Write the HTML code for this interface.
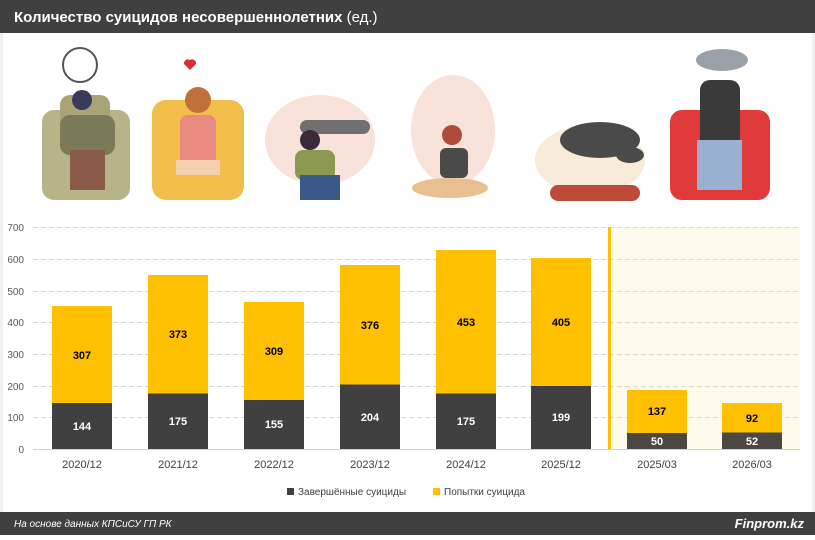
<!DOCTYPE html>
<html><head><meta charset="utf-8"><style>
body{margin:0;width:815px;height:535px;overflow:hidden;background:#fff;font-family:"Liberation Sans",sans-serif}
</style></head><body>
<svg width="815" height="535" xmlns="http://www.w3.org/2000/svg" font-family="Liberation Sans, sans-serif">
<rect x="0" y="0" width="815" height="33" fill="#404040"/>
<text x="14" y="22" font-size="15" font-weight="bold" fill="#fff">Количество суицидов несовершеннолетних <tspan font-weight="normal">(ед.)</tspan></text>
<rect x="0" y="33" width="3" height="479" fill="#f0f0f0"/><rect x="812" y="33" width="3" height="479" fill="#f0f0f0"/>
<!-- illustrations -->
<g>
<rect x="42" y="110" width="88" height="90" rx="12" fill="#b8b48a"/><rect x="60" y="95" width="50" height="60" rx="10" fill="#a8a478"/>
<circle cx="80" cy="65" r="17" fill="none" stroke="#555" stroke-width="2"/><circle cx="82" cy="100" r="10" fill="#3a3a5a"/>
<rect x="60" y="115" width="55" height="40" rx="10" fill="#7a7a58"/><rect x="70" y="150" width="35" height="40" fill="#8a5a4a"/>
<path d="M190 70 l-6-6 a4 4 0 0 1 6-4 a4 4 0 0 1 6 4z" fill="#d63030"/>
<rect x="152" y="100" width="92" height="100" rx="14" fill="#f2be4a"/><circle cx="198" cy="100" r="13" fill="#c0703a"/>
<rect x="180" y="115" width="36" height="50" rx="8" fill="#e88a80"/><rect x="176" y="160" width="44" height="15" fill="#f5d0b0"/>
<ellipse cx="320" cy="140" rx="55" ry="45" fill="#f8e2da"/><rect x="300" y="120" width="70" height="14" rx="7" fill="#707070"/>
<circle cx="310" cy="140" r="10" fill="#3a2a3a"/><rect x="295" y="150" width="40" height="30" rx="8" fill="#8a9a50"/><rect x="300" y="175" width="40" height="25" fill="#3b5a8a"/>
<ellipse cx="453" cy="130" rx="42" ry="55" fill="#f8e2da"/><circle cx="452" cy="135" r="10" fill="#b04a3a"/>
<rect x="440" y="148" width="28" height="30" rx="6" fill="#4a4a4a"/><ellipse cx="450" cy="188" rx="38" ry="10" fill="#e8c090"/>
<ellipse cx="590" cy="160" rx="55" ry="35" fill="#f8ecd8"/><ellipse cx="600" cy="140" rx="40" ry="18" fill="#4a4a4a"/><ellipse cx="630" cy="155" rx="14" ry="8" fill="#4a4a4a"/>
<rect x="550" y="185" width="90" height="16" rx="8" fill="#c04a3a"/>
<ellipse cx="722" cy="60" rx="26" ry="11" fill="#9aa0a8"/>
<rect x="670" y="110" width="100" height="90" rx="12" fill="#e03a3a"/><rect x="700" y="80" width="40" height="70" rx="10" fill="#3a3a3a"/>
<rect x="697" y="140" width="45" height="50" fill="#9ab0d0"/>
</g>
<!-- shaded -->
<rect x="610" y="227" width="190" height="222" fill="#fffbec"/>
<g stroke="#d9d9d9" stroke-dasharray="5,3" stroke-width="1">
<line x1="33" x2="800" y1="227.5" y2="227.5"/><line x1="33" x2="800" y1="259.5" y2="259.5"/><line x1="33" x2="800" y1="291.5" y2="291.5"/><line x1="33" x2="800" y1="322.5" y2="322.5"/><line x1="33" x2="800" y1="354.5" y2="354.5"/><line x1="33" x2="800" y1="386.5" y2="386.5"/><line x1="33" x2="800" y1="417.5" y2="417.5"/>
</g>
<line x1="33" x2="800" y1="449.5" y2="449.5" stroke="#d0d0d0"/>
<rect x="608" y="227" width="3" height="222" fill="#ffc000"/>
<g font-size="10" fill="#595959" text-anchor="end">
<text x="24" y="231">700</text><text x="24" y="263">600</text><text x="24" y="295">500</text><text x="24" y="326">400</text><text x="24" y="358">300</text><text x="24" y="390">200</text><text x="24" y="421">100</text><text x="24" y="453">0</text>
</g>
<g fill="#ffc000">
<rect x="52" y="306" width="60" height="98"/><rect x="148" y="275" width="60" height="119"/><rect x="244" y="302" width="60" height="98"/><rect x="340" y="265" width="60" height="120"/><rect x="436" y="250" width="60" height="144"/><rect x="531" y="258" width="60" height="128"/><rect x="627" y="390" width="60" height="44"/><rect x="722" y="403" width="60" height="30"/>
</g>
<g fill="#404040">
<rect x="52" y="403" width="60" height="46"/><rect x="148" y="393.5" width="60" height="55.5"/><rect x="244" y="400" width="60" height="49"/><rect x="340" y="384.5" width="60" height="64.5"/><rect x="436" y="393.5" width="60" height="55.5"/><rect x="531" y="386" width="60" height="63"/>
</g>
<g fill="#4a4840"><rect x="627" y="433" width="60" height="16"/><rect x="722" y="432.5" width="60" height="16.5"/></g>
<g font-size="11" font-weight="bold" text-anchor="middle" fill="#000">
<text x="82" y="359">307</text><text x="178" y="338">373</text><text x="274" y="355">309</text><text x="370" y="329">376</text><text x="466" y="326">453</text><text x="561" y="326">405</text><text x="657" y="415">137</text><text x="752" y="422">92</text>
</g>
<g font-size="11" font-weight="bold" text-anchor="middle" fill="#fff">
<text x="82" y="430">144</text><text x="178" y="425">175</text><text x="274" y="428">155</text><text x="370" y="421">204</text><text x="466" y="425">175</text><text x="561" y="421">199</text><text x="657" y="445">50</text><text x="752" y="445">52</text>
</g>
<g font-size="11" fill="#404040" text-anchor="middle">
<text x="82" y="468">2020/12</text><text x="178" y="468">2021/12</text><text x="274" y="468">2022/12</text><text x="370" y="468">2023/12</text><text x="466" y="468">2024/12</text><text x="561" y="468">2025/12</text><text x="657" y="468">2025/03</text><text x="752" y="468">2026/03</text>
</g>
<rect x="287" y="488" width="7" height="7" fill="#404040"/><text x="298" y="495" font-size="10" fill="#404040">Завершённые суициды</text>
<rect x="433" y="488" width="7" height="7" fill="#ffc000"/><text x="444" y="495" font-size="10" fill="#404040">Попытки суицида</text>
<rect x="0" y="512" width="815" height="23" fill="#404040"/>
<text x="14" y="527" font-size="10" font-style="italic" fill="#fff">На основе данных КПСиСУ ГП РК</text>
<text x="804" y="528" font-size="13" font-weight="bold" font-style="italic" fill="#fff" text-anchor="end">Finprom.kz</text>
</svg>
</body></html>
